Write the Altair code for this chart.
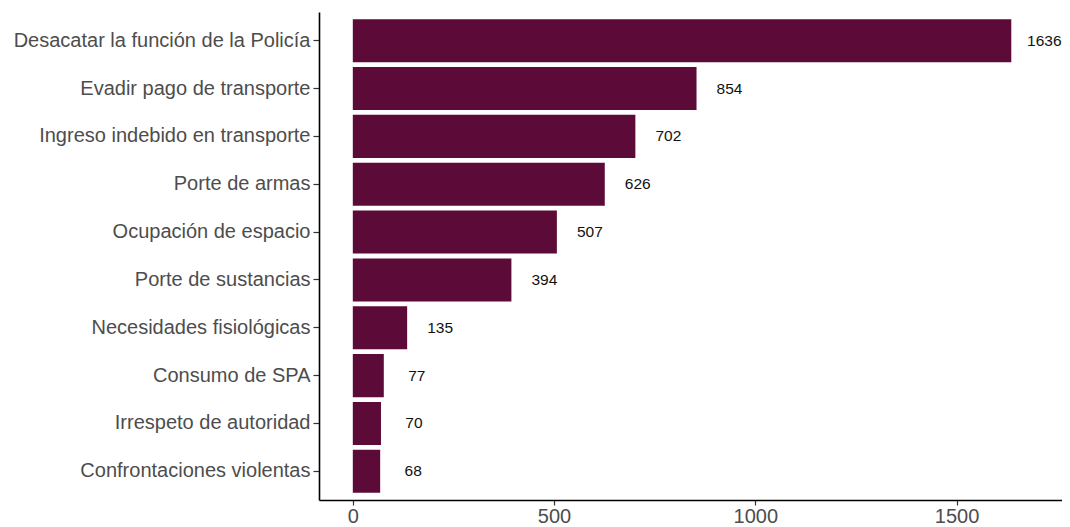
import altair as alt
import pandas as pd

categorias = [
    "Desacatar la función de la Policía",
    "Evadir pago de transporte",
    "Ingreso indebido en transporte",
    "Porte de armas",
    "Ocupación de espacio",
    "Porte de sustancias",
    "Necesidades fisiológicas",
    "Consumo de SPA",
    "Irrespeto de autoridad",
    "Confrontaciones violentas",
]
valores = [1636, 854, 702, 626, 507, 394, 135, 77, 70, 68]
ticks_x = [0, 500, 1000, 1500]

df = pd.DataFrame({"categoria": categorias, "valor": valores})

FONT = "Liberation Sans"

y_enc = alt.Y(
    "categoria:N",
    sort=categorias,
    title=None,
    scale=alt.Scale(paddingInner=0.1, paddingOuter=0.15),
    axis=alt.Axis(
        labelFontSize=20,
        labelColor="#4d4d4d",
        labelFont=FONT,
        labelPadding=3,
        tickSize=6,
        tickColor="#333333",
        tickWidth=1.2,
        domainColor="#000000",
        domainWidth=1.6,
        labelLimit=400,
    ),
)
x_scale = alt.Scale(domain=[-84, 1762], nice=False, zero=False)
x_enc = alt.X(
    "valor:Q",
    title=None,
    scale=x_scale,
    axis=alt.Axis(
        values=ticks_x,
        format="d",
        labelFontSize=20,
        labelColor="#4d4d4d",
        labelFont=FONT,
        labelPadding=1,
        tickSize=5,
        tickColor="#333333",
        tickWidth=1.2,
        domainColor="#000000",
        domainWidth=1.6,
        grid=False,
        labelFlush=False,
    ),
)

bars = alt.Chart(df).mark_bar(color="#5c0a38").encode(
    y=y_enc,
    x=x_enc,
    x2=alt.datum(0),
)

labels = alt.Chart(df).mark_text(
    align="center", baseline="middle", dx=33, fontSize=15.5, font=FONT, color="#111111"
).encode(
    y=alt.Y("categoria:N", sort=categorias),
    x=alt.X("valor:Q", scale=x_scale),
    text=alt.Text("valor:Q", format="d"),
)

chart = (
    alt.layer(bars, labels)
    .properties(
        width=743,
        height=488,
        autosize=alt.AutoSizeParams(type="none"),
        padding={"left": 311, "top": 4, "right": 0, "bottom": 26},
    )
    .configure(background="white")
    .configure_view(stroke=None, strokeWidth=0)
)

chart.save("out.html", embed_options={"renderer": "svg", "actions": False})
